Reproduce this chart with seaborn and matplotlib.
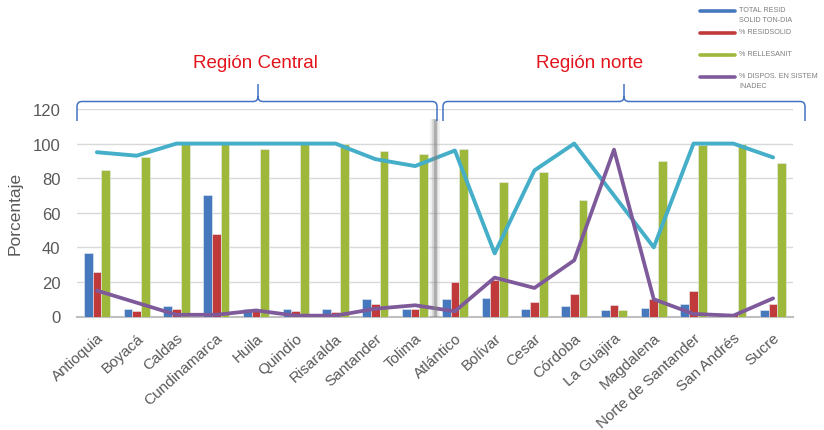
import numpy as np
import pandas as pd
import matplotlib
matplotlib.use("Agg")
import matplotlib.pyplot as plt
from matplotlib.lines import Line2D
from matplotlib.path import Path
from matplotlib.patches import PathPatch
import seaborn as sns

categories = ["Antioquia", "Boyacá", "Caldas", "Cundinamarca", "Huila", "Quindío",
              "Risaralda", "Santander", "Tolima", "Atlántico", "Bolívar", "Cesar",
              "Córdoba", "La Guajira", "Magdalena", "Norte de Santander",
              "San Andrés", "Sucre"]
total_resid = [37, 4.5, 6, 70, 4.5, 4.5, 4.5, 10, 4.5, 10, 10.5, 4.5, 6, 3.5, 5, 7.5, 0, 3.5]
pct_resid = [25.5, 3.3, 4.5, 48, 3.5, 3.3, 2.7, 7.5, 4.5, 20, 21, 8.5, 13, 6.5, 10, 15, 1.5, 7]
pct_relleno = [85, 92.5, 100, 100, 97, 100, 100, 96, 94, 97, 78, 83.5, 67.5, 3.5, 90, 99, 100, 89]
pct_dispos = [15, 8, 1, 1, 3.5, 0.5, 0.5, 4.5, 6.5, 3, 22.5, 16.5, 32.5, 96.5, 10, 1.5, 0.5, 10.5]
pct_cobertura = [95, 93, 100, 100, 100, 100, 100, 91, 87, 96, 36.5, 84.5, 100, 70, 40, 100, 100, 92]

bar_names = ["TOTAL RESID\nSOLID TON-DIA", "% RESIDSOLID", "% RELLESANIT"]
line_name = "% DISPOS. EN SISTEM\nINADEC"
region_labels = ["Región Central", "Región norte"]
yticks = [0, 20, 40, 60, 80, 100, 120]

c_blue, c_red, c_green, c_purple, c_cyan = "#4678BD", "#C0393B", "#9DB83A", "#7E5A9B", "#45AEC9"

sns.set_theme(style="white")
plt.rcParams['font.family'] = ['Liberation Sans', 'DejaVu Sans']

W, H = 824, 431
fig = plt.figure(figsize=(W / 100, H / 100), dpi=100)
ax = fig.add_axes([77 / W, 1 - 317.5 / H, (793 - 77) / W, (317.5 - 110) / H])

df = pd.DataFrame({
    "region": categories * 3,
    "serie": sum([[n] * len(categories) for n in bar_names], []),
    "valor": total_resid + pct_resid + pct_relleno,
})
sns.barplot(data=df, x="region", y="valor", hue="serie", hue_order=bar_names,
            order=categories, palette=[c_blue, c_red, c_green], width=0.66,
            gap=0, saturation=1, ax=ax, legend=False, edgecolor="#E8EEF2",
            linewidth=0.4, zorder=3)

xs = np.arange(len(categories))
sns.lineplot(x=xs, y=pct_cobertura, color=c_cyan, lw=2.8, ax=ax, zorder=5,
             legend=False)
sns.lineplot(x=xs, y=pct_dispos, color=c_purple, lw=2.7, ax=ax, zorder=6,
             legend=False)

ax.set_xlim(-0.5, len(categories) - 0.5)
ax.set_ylim(0, 120)
ax.set_yticks(yticks)
ax.set_yticklabels([str(t) for t in yticks], fontsize=12, color="#595959")
ax.yaxis.grid(True, color="#D9D9D9", lw=1, zorder=0)
ax.set_axisbelow(True)
ax.tick_params(axis="y", length=0, pad=12)
ax.set_xticks(xs)
ax.set_xticklabels(categories, rotation=42, ha="right", rotation_mode="anchor",
                   fontsize=11, color="#595959")
ax.tick_params(axis="x", length=0, pad=10)
ax.set_xlabel("")
ax.set_ylabel("Porcentaje", fontsize=12.5, color="#595959", labelpad=7)
for s in ["top", "right", "left"]:
    ax.spines[s].set_visible(False)
ax.spines["bottom"].set_color("#BFBFBF")
ax.spines["bottom"].set_linewidth(1.5)

# separator shadow between regions
for lw, a in [(7, 0.12), (4, 0.25), (2, 0.45)]:
    ax.plot([8.5, 8.5], [0, 114.5], color="#7F7F7F", lw=lw, alpha=a, zorder=7,
            solid_capstyle="butt")

# brackets
def fx(px):
    return px / W

def fy(py):
    return 1 - py / H

def bracket(x0, xm, x1, ytop=102.5, ybot=122, ypeak=85):
    r = 5
    verts = [(x0, ybot), (x0, ytop + r), (x0, ytop), (x0 + r, ytop),
             (xm - r, ytop), (xm, ytop), (xm, ytop - r), (xm, ypeak),
             (xm, ytop - r), (xm, ytop), (xm + r, ytop),
             (x1 - r, ytop), (x1, ytop), (x1, ytop + r), (x1, ybot)]
    codes = [Path.MOVETO, Path.LINETO, Path.CURVE3, Path.CURVE3,
             Path.LINETO, Path.CURVE3, Path.CURVE3, Path.LINETO,
             Path.MOVETO, Path.CURVE3, Path.CURVE3,
             Path.LINETO, Path.CURVE3, Path.CURVE3, Path.LINETO]
    verts = [(fx(a), fy(b)) for a, b in verts]
    p = PathPatch(Path(verts, codes), fill=False, edgecolor="#4472C4", lw=1.1,
                  transform=fig.transFigure)
    fig.add_artist(p)

bracket(77, 258, 437)
bracket(443, 624, 805)

fig.text(fx(255), fy(64), region_labels[0], color="#E3131B", fontsize=13.5,
         ha="center", va="center")
fig.text(fx(590), fy(64), region_labels[1], color="#E3131B", fontsize=13.5,
         ha="center", va="center")

# legend
leg_items = [(c_blue, 12, bar_names[0]), (c_red, 34, bar_names[1]),
             (c_green, 56, bar_names[2]), (c_purple, 78, line_name)]
for col, py, lab in leg_items:
    fig.add_artist(Line2D([fx(700), fx(735)], [fy(py), fy(py)], color=col,
                          lw=2.6, transform=fig.transFigure))
    fig.text(fx(739), fy(py - 5.5), lab, color="#7F7F7F", fontsize=5.2,
             ha="left", va="top", linespacing=1.75)

fig.savefig("out.png", dpi=100, facecolor="white")
